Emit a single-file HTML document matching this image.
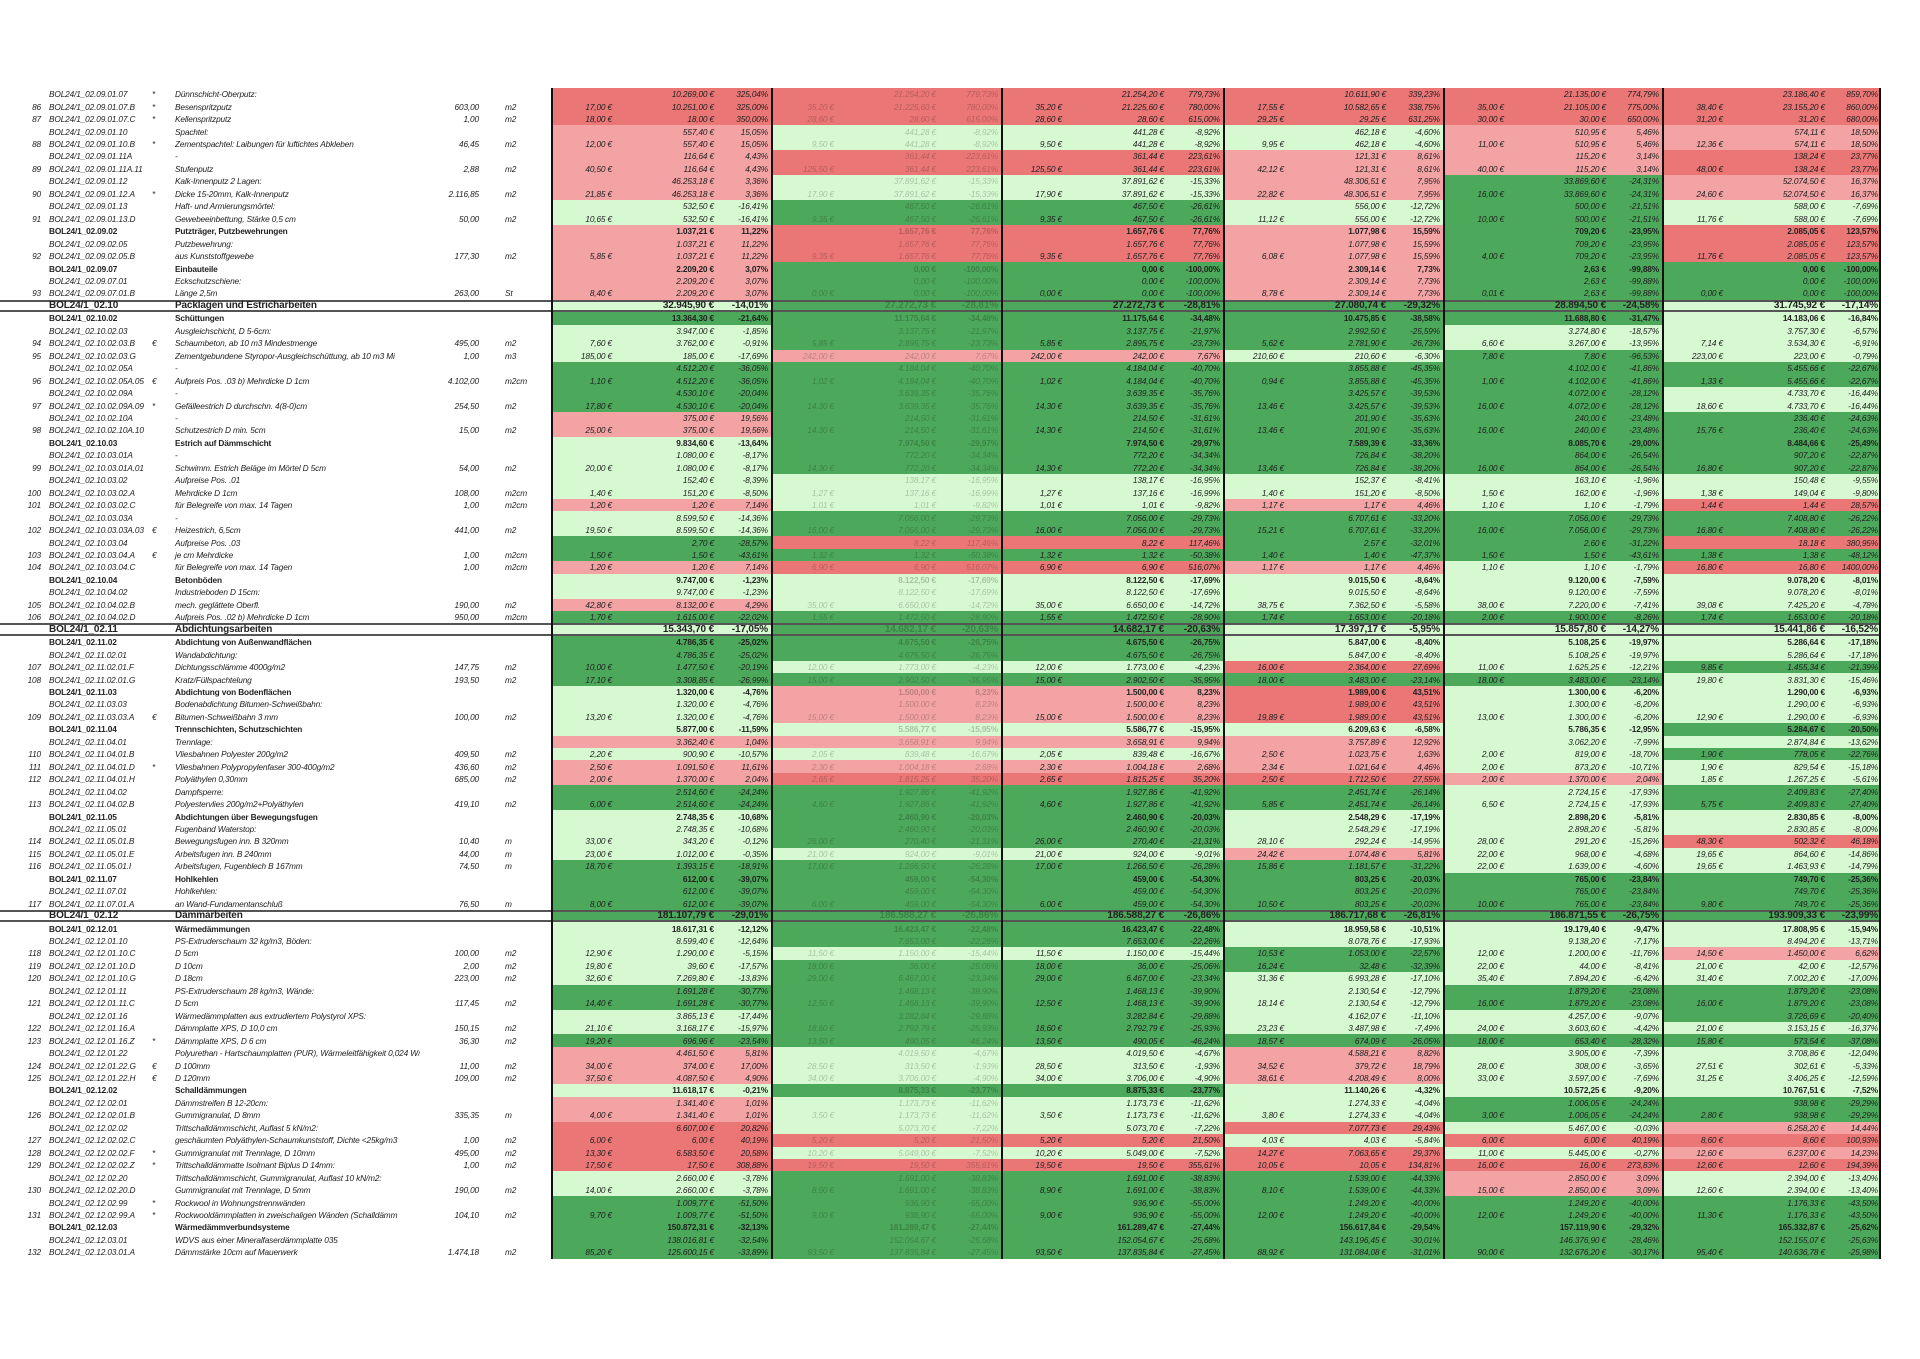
<!DOCTYPE html>
<html><head><meta charset="utf-8">
<style>
html,body{margin:0;padding:0;background:#fff;width:1920px;height:1359px;overflow:hidden}
table{position:absolute;left:0;top:88px;width:1881px;border-collapse:collapse;table-layout:fixed;font-family:"Liberation Sans",sans-serif;font-size:8.3px;font-style:italic;color:#222;letter-spacing:-0.15px}
tr{height:12.468px}
td{padding:0;white-space:nowrap;overflow:hidden;line-height:12px;text-align:right;padding-right:3px}
td:nth-child(1){padding-right:2px}
td:nth-child(2){text-align:left;padding-left:6px}
td:nth-child(3){text-align:left;padding-left:2px}
td:nth-child(4){text-align:left;padding-left:3px}
td:nth-child(6){text-align:left;padding-left:23px}
td:nth-child(3n+7){box-shadow:inset 2px 0 #111}
td:nth-child(24){box-shadow:inset -2px 0 #111}
td:nth-child(10),td:nth-child(11),td:nth-child(12){color:rgba(0,0,0,.22)}
.r{background:#eb7676}.p{background:#f3a3a3}.l{background:#d6f9d1}.g{background:#4ca85a}
.b td{font-weight:bold;font-style:normal}
.h td{font-weight:bold;font-style:normal;font-size:10px;box-shadow:inset 0 2px #555,inset 0 -2px #555}
.h td:nth-child(3n+7){box-shadow:inset 2px 0 #111,inset 0 2px #555,inset 0 -2px #555}
.h td:nth-child(24){box-shadow:inset -2px 0 #111,inset 0 2px #555,inset 0 -2px #555}
</style></head><body>
<table>
<colgroup><col style="width:43px"><col style="width:107px"><col style="width:22px"><col style="width:248px"><col style="width:62px"><col style="width:69px">
<col style="width:64px"><col style="width:102px"><col style="width:54px">
<col style="width:66px"><col style="width:102px"><col style="width:62px">
<col style="width:64px"><col style="width:102px"><col style="width:56px">
<col style="width:64px"><col style="width:102px"><col style="width:54px">
<col style="width:64px"><col style="width:102px"><col style="width:53px">
<col style="width:64px"><col style="width:102px"><col style="width:53px"></colgroup>
<tr><td></td><td>BOL24/1_02.09.01.07</td><td>*</td><td>Dünnschicht-Oberputz:</td><td></td><td></td><td class=r></td><td class=r>10.269,00 €</td><td class=r>325,04%</td><td class=r></td><td class=r>21.254,20 €</td><td class=r>779,73%</td><td class=r></td><td class=r>21.254,20 €</td><td class=r>779,73%</td><td class=r></td><td class=r>10.611,90 €</td><td class=r>339,23%</td><td class=r></td><td class=r>21.135,00 €</td><td class=r>774,79%</td><td class=r></td><td class=r>23.186,40 €</td><td class=r>859,70%</td></tr>
<tr><td>86</td><td>BOL24/1_02.09.01.07.B</td><td>*</td><td>Besenspritzputz</td><td>603,00</td><td>m2</td><td class=r>17,00 €</td><td class=r>10.251,00 €</td><td class=r>325,00%</td><td class=r>35,20 €</td><td class=r>21.225,60 €</td><td class=r>780,00%</td><td class=r>35,20 €</td><td class=r>21.225,60 €</td><td class=r>780,00%</td><td class=r>17,55 €</td><td class=r>10.582,65 €</td><td class=r>338,75%</td><td class=r>35,00 €</td><td class=r>21.105,00 €</td><td class=r>775,00%</td><td class=r>38,40 €</td><td class=r>23.155,20 €</td><td class=r>860,00%</td></tr>
<tr><td>87</td><td>BOL24/1_02.09.01.07.C</td><td>*</td><td>Kellenspritzputz</td><td>1,00</td><td>m2</td><td class=r>18,00 €</td><td class=r>18,00 €</td><td class=r>350,00%</td><td class=r>28,60 €</td><td class=r>28,60 €</td><td class=r>615,00%</td><td class=r>28,60 €</td><td class=r>28,60 €</td><td class=r>615,00%</td><td class=r>29,25 €</td><td class=r>29,25 €</td><td class=r>631,25%</td><td class=r>30,00 €</td><td class=r>30,00 €</td><td class=r>650,00%</td><td class=r>31,20 €</td><td class=r>31,20 €</td><td class=r>680,00%</td></tr>
<tr><td></td><td>BOL24/1_02.09.01.10</td><td></td><td>Spachtel:</td><td></td><td></td><td class=p></td><td class=p>557,40 €</td><td class=p>15,05%</td><td class=l></td><td class=l>441,28 €</td><td class=l>-8,92%</td><td class=l></td><td class=l>441,28 €</td><td class=l>-8,92%</td><td class=l></td><td class=l>462,18 €</td><td class=l>-4,60%</td><td class=p></td><td class=p>510,95 €</td><td class=p>5,46%</td><td class=p></td><td class=p>574,11 €</td><td class=p>18,50%</td></tr>
<tr><td>88</td><td>BOL24/1_02.09.01.10.B</td><td>*</td><td>Zementspachtel: Laibungen für luftichtes Abkleben</td><td>46,45</td><td>m2</td><td class=p>12,00 €</td><td class=p>557,40 €</td><td class=p>15,05%</td><td class=l>9,50 €</td><td class=l>441,28 €</td><td class=l>-8,92%</td><td class=l>9,50 €</td><td class=l>441,28 €</td><td class=l>-8,92%</td><td class=l>9,95 €</td><td class=l>462,18 €</td><td class=l>-4,60%</td><td class=p>11,00 €</td><td class=p>510,95 €</td><td class=p>5,46%</td><td class=p>12,36 €</td><td class=p>574,11 €</td><td class=p>18,50%</td></tr>
<tr><td></td><td>BOL24/1_02.09.01.11A</td><td></td><td>-</td><td></td><td></td><td class=p></td><td class=p>116,64 €</td><td class=p>4,43%</td><td class=r></td><td class=r>361,44 €</td><td class=r>223,61%</td><td class=r></td><td class=r>361,44 €</td><td class=r>223,61%</td><td class=p></td><td class=p>121,31 €</td><td class=p>8,61%</td><td class=p></td><td class=p>115,20 €</td><td class=p>3,14%</td><td class=r></td><td class=r>138,24 €</td><td class=r>23,77%</td></tr>
<tr><td>89</td><td>BOL24/1_02.09.01.11A.11</td><td></td><td>Stufenputz</td><td>2,88</td><td>m2</td><td class=p>40,50 €</td><td class=p>116,64 €</td><td class=p>4,43%</td><td class=r>125,50 €</td><td class=r>361,44 €</td><td class=r>223,61%</td><td class=r>125,50 €</td><td class=r>361,44 €</td><td class=r>223,61%</td><td class=p>42,12 €</td><td class=p>121,31 €</td><td class=p>8,61%</td><td class=p>40,00 €</td><td class=p>115,20 €</td><td class=p>3,14%</td><td class=r>48,00 €</td><td class=r>138,24 €</td><td class=r>23,77%</td></tr>
<tr><td></td><td>BOL24/1_02.09.01.12</td><td></td><td>Kalk-Innenputz 2 Lagen:</td><td></td><td></td><td class=p></td><td class=p>46.253,18 €</td><td class=p>3,36%</td><td class=l></td><td class=l>37.891,62 €</td><td class=l>-15,33%</td><td class=l></td><td class=l>37.891,62 €</td><td class=l>-15,33%</td><td class=p></td><td class=p>48.306,51 €</td><td class=p>7,95%</td><td class=g></td><td class=g>33.869,60 €</td><td class=g>-24,31%</td><td class=p></td><td class=p>52.074,50 €</td><td class=p>16,37%</td></tr>
<tr><td>90</td><td>BOL24/1_02.09.01.12.A</td><td>*</td><td>Dicke 15-20mm, Kalk-Innenputz</td><td>2.116,85</td><td>m2</td><td class=p>21,85 €</td><td class=p>46.253,18 €</td><td class=p>3,36%</td><td class=l>17,90 €</td><td class=l>37.891,62 €</td><td class=l>-15,33%</td><td class=l>17,90 €</td><td class=l>37.891,62 €</td><td class=l>-15,33%</td><td class=p>22,82 €</td><td class=p>48.306,51 €</td><td class=p>7,95%</td><td class=g>16,00 €</td><td class=g>33.869,60 €</td><td class=g>-24,31%</td><td class=p>24,60 €</td><td class=p>52.074,50 €</td><td class=p>16,37%</td></tr>
<tr><td></td><td>BOL24/1_02.09.01.13</td><td></td><td>Haft- und Armierungsmörtel:</td><td></td><td></td><td class=l></td><td class=l>532,50 €</td><td class=l>-16,41%</td><td class=g></td><td class=g>467,50 €</td><td class=g>-26,61%</td><td class=g></td><td class=g>467,50 €</td><td class=g>-26,61%</td><td class=l></td><td class=l>556,00 €</td><td class=l>-12,72%</td><td class=g></td><td class=g>500,00 €</td><td class=g>-21,51%</td><td class=l></td><td class=l>588,00 €</td><td class=l>-7,69%</td></tr>
<tr><td>91</td><td>BOL24/1_02.09.01.13.D</td><td></td><td>Gewebeeinbettung, Stärke 0,5 cm</td><td>50,00</td><td>m2</td><td class=l>10,65 €</td><td class=l>532,50 €</td><td class=l>-16,41%</td><td class=g>9,35 €</td><td class=g>467,50 €</td><td class=g>-26,61%</td><td class=g>9,35 €</td><td class=g>467,50 €</td><td class=g>-26,61%</td><td class=l>11,12 €</td><td class=l>556,00 €</td><td class=l>-12,72%</td><td class=g>10,00 €</td><td class=g>500,00 €</td><td class=g>-21,51%</td><td class=l>11,76 €</td><td class=l>588,00 €</td><td class=l>-7,69%</td></tr>
<tr class=b><td></td><td>BOL24/1_02.09.02</td><td></td><td>Putzträger, Putzbewehrungen</td><td></td><td></td><td class=p></td><td class=p>1.037,21 €</td><td class=p>11,22%</td><td class=r></td><td class=r>1.657,76 €</td><td class=r>77,76%</td><td class=r></td><td class=r>1.657,76 €</td><td class=r>77,76%</td><td class=p></td><td class=p>1.077,98 €</td><td class=p>15,59%</td><td class=g></td><td class=g>709,20 €</td><td class=g>-23,95%</td><td class=r></td><td class=r>2.085,05 €</td><td class=r>123,57%</td></tr>
<tr><td></td><td>BOL24/1_02.09.02.05</td><td></td><td>Putzbewehrung:</td><td></td><td></td><td class=p></td><td class=p>1.037,21 €</td><td class=p>11,22%</td><td class=r></td><td class=r>1.657,76 €</td><td class=r>77,76%</td><td class=r></td><td class=r>1.657,76 €</td><td class=r>77,76%</td><td class=p></td><td class=p>1.077,98 €</td><td class=p>15,59%</td><td class=g></td><td class=g>709,20 €</td><td class=g>-23,95%</td><td class=r></td><td class=r>2.085,05 €</td><td class=r>123,57%</td></tr>
<tr><td>92</td><td>BOL24/1_02.09.02.05.B</td><td></td><td>aus Kunststoffgewebe</td><td>177,30</td><td>m2</td><td class=p>5,85 €</td><td class=p>1.037,21 €</td><td class=p>11,22%</td><td class=r>9,35 €</td><td class=r>1.657,76 €</td><td class=r>77,76%</td><td class=r>9,35 €</td><td class=r>1.657,76 €</td><td class=r>77,76%</td><td class=p>6,08 €</td><td class=p>1.077,98 €</td><td class=p>15,59%</td><td class=g>4,00 €</td><td class=g>709,20 €</td><td class=g>-23,95%</td><td class=r>11,76 €</td><td class=r>2.085,05 €</td><td class=r>123,57%</td></tr>
<tr class=b><td></td><td>BOL24/1_02.09.07</td><td></td><td>Einbauteile</td><td></td><td></td><td class=p></td><td class=p>2.209,20 €</td><td class=p>3,07%</td><td class=g></td><td class=g>0,00 €</td><td class=g>-100,00%</td><td class=g></td><td class=g>0,00 €</td><td class=g>-100,00%</td><td class=p></td><td class=p>2.309,14 €</td><td class=p>7,73%</td><td class=g></td><td class=g>2,63 €</td><td class=g>-99,88%</td><td class=g></td><td class=g>0,00 €</td><td class=g>-100,00%</td></tr>
<tr><td></td><td>BOL24/1_02.09.07.01</td><td></td><td>Eckschutzschiene:</td><td></td><td></td><td class=p></td><td class=p>2.209,20 €</td><td class=p>3,07%</td><td class=g></td><td class=g>0,00 €</td><td class=g>-100,00%</td><td class=g></td><td class=g>0,00 €</td><td class=g>-100,00%</td><td class=p></td><td class=p>2.309,14 €</td><td class=p>7,73%</td><td class=g></td><td class=g>2,63 €</td><td class=g>-99,88%</td><td class=g></td><td class=g>0,00 €</td><td class=g>-100,00%</td></tr>
<tr><td>93</td><td>BOL24/1_02.09.07.01.B</td><td></td><td>Länge 2,5m</td><td>263,00</td><td>St</td><td class=p>8,40 €</td><td class=p>2.209,20 €</td><td class=p>3,07%</td><td class=g>0,00 €</td><td class=g>0,00 €</td><td class=g>-100,00%</td><td class=g>0,00 €</td><td class=g>0,00 €</td><td class=g>-100,00%</td><td class=p>8,78 €</td><td class=p>2.309,14 €</td><td class=p>7,73%</td><td class=g>0,01 €</td><td class=g>2,63 €</td><td class=g>-99,88%</td><td class=g>0,00 €</td><td class=g>0,00 €</td><td class=g>-100,00%</td></tr>
<tr class=h><td></td><td>BOL24/1_02.10</td><td></td><td>Packlagen und Estricharbeiten</td><td></td><td></td><td class=l></td><td class=l>32.945,90 €</td><td class=l>-14,01%</td><td class=g></td><td class=g>27.272,73 €</td><td class=g>-28,81%</td><td class=g></td><td class=g>27.272,73 €</td><td class=g>-28,81%</td><td class=g></td><td class=g>27.080,74 €</td><td class=g>-29,32%</td><td class=g></td><td class=g>28.894,50 €</td><td class=g>-24,58%</td><td class=l></td><td class=l>31.745,92 €</td><td class=l>-17,14%</td></tr>
<tr class=b><td></td><td>BOL24/1_02.10.02</td><td></td><td>Schüttungen</td><td></td><td></td><td class=g></td><td class=g>13.364,30 €</td><td class=g>-21,64%</td><td class=g></td><td class=g>11.175,64 €</td><td class=g>-34,48%</td><td class=g></td><td class=g>11.175,64 €</td><td class=g>-34,48%</td><td class=g></td><td class=g>10.475,85 €</td><td class=g>-38,58%</td><td class=g></td><td class=g>11.688,80 €</td><td class=g>-31,47%</td><td class=l></td><td class=l>14.183,06 €</td><td class=l>-16,84%</td></tr>
<tr><td></td><td>BOL24/1_02.10.02.03</td><td></td><td>Ausgleichschicht, D 5-6cm:</td><td></td><td></td><td class=l></td><td class=l>3.947,00 €</td><td class=l>-1,85%</td><td class=g></td><td class=g>3.137,75 €</td><td class=g>-21,97%</td><td class=g></td><td class=g>3.137,75 €</td><td class=g>-21,97%</td><td class=g></td><td class=g>2.992,50 €</td><td class=g>-25,59%</td><td class=l></td><td class=l>3.274,80 €</td><td class=l>-18,57%</td><td class=l></td><td class=l>3.757,30 €</td><td class=l>-6,57%</td></tr>
<tr><td>94</td><td>BOL24/1_02.10.02.03.B</td><td>€</td><td>Schaumbeton, ab 10 m3 Mindestmenge</td><td>495,00</td><td>m2</td><td class=l>7,60 €</td><td class=l>3.762,00 €</td><td class=l>-0,91%</td><td class=g>5,85 €</td><td class=g>2.895,75 €</td><td class=g>-23,73%</td><td class=g>5,85 €</td><td class=g>2.895,75 €</td><td class=g>-23,73%</td><td class=g>5,62 €</td><td class=g>2.781,90 €</td><td class=g>-26,73%</td><td class=l>6,60 €</td><td class=l>3.267,00 €</td><td class=l>-13,95%</td><td class=l>7,14 €</td><td class=l>3.534,30 €</td><td class=l>-6,91%</td></tr>
<tr><td>95</td><td>BOL24/1_02.10.02.03.G</td><td></td><td>Zementgebundene Styropor-Ausgleichschüttung, ab 10 m3 Mi</td><td>1,00</td><td>m3</td><td class=l>185,00 €</td><td class=l>185,00 €</td><td class=l>-17,69%</td><td class=p>242,00 €</td><td class=p>242,00 €</td><td class=p>7,67%</td><td class=p>242,00 €</td><td class=p>242,00 €</td><td class=p>7,67%</td><td class=l>210,60 €</td><td class=l>210,60 €</td><td class=l>-6,30%</td><td class=g>7,80 €</td><td class=g>7,80 €</td><td class=g>-96,53%</td><td class=l>223,00 €</td><td class=l>223,00 €</td><td class=l>-0,79%</td></tr>
<tr><td></td><td>BOL24/1_02.10.02.05A</td><td></td><td>-</td><td></td><td></td><td class=g></td><td class=g>4.512,20 €</td><td class=g>-36,05%</td><td class=g></td><td class=g>4.184,04 €</td><td class=g>-40,70%</td><td class=g></td><td class=g>4.184,04 €</td><td class=g>-40,70%</td><td class=g></td><td class=g>3.855,88 €</td><td class=g>-45,35%</td><td class=g></td><td class=g>4.102,00 €</td><td class=g>-41,86%</td><td class=g></td><td class=g>5.455,66 €</td><td class=g>-22,67%</td></tr>
<tr><td>96</td><td>BOL24/1_02.10.02.05A.05</td><td>€</td><td>Aufpreis Pos. .03 b) Mehrdicke D 1cm</td><td>4.102,00</td><td>m2cm</td><td class=g>1,10 €</td><td class=g>4.512,20 €</td><td class=g>-36,05%</td><td class=g>1,02 €</td><td class=g>4.184,04 €</td><td class=g>-40,70%</td><td class=g>1,02 €</td><td class=g>4.184,04 €</td><td class=g>-40,70%</td><td class=g>0,94 €</td><td class=g>3.855,88 €</td><td class=g>-45,35%</td><td class=g>1,00 €</td><td class=g>4.102,00 €</td><td class=g>-41,86%</td><td class=g>1,33 €</td><td class=g>5.455,66 €</td><td class=g>-22,67%</td></tr>
<tr><td></td><td>BOL24/1_02.10.02.09A</td><td></td><td>-</td><td></td><td></td><td class=g></td><td class=g>4.530,10 €</td><td class=g>-20,04%</td><td class=g></td><td class=g>3.639,35 €</td><td class=g>-35,76%</td><td class=g></td><td class=g>3.639,35 €</td><td class=g>-35,76%</td><td class=g></td><td class=g>3.425,57 €</td><td class=g>-39,53%</td><td class=g></td><td class=g>4.072,00 €</td><td class=g>-28,12%</td><td class=l></td><td class=l>4.733,70 €</td><td class=l>-16,44%</td></tr>
<tr><td>97</td><td>BOL24/1_02.10.02.09A.09</td><td>*</td><td>Gefälleestrich D durchschn. 4(8-0)cm</td><td>254,50</td><td>m2</td><td class=g>17,80 €</td><td class=g>4.530,10 €</td><td class=g>-20,04%</td><td class=g>14,30 €</td><td class=g>3.639,35 €</td><td class=g>-35,76%</td><td class=g>14,30 €</td><td class=g>3.639,35 €</td><td class=g>-35,76%</td><td class=g>13,46 €</td><td class=g>3.425,57 €</td><td class=g>-39,53%</td><td class=g>16,00 €</td><td class=g>4.072,00 €</td><td class=g>-28,12%</td><td class=l>18,60 €</td><td class=l>4.733,70 €</td><td class=l>-16,44%</td></tr>
<tr><td></td><td>BOL24/1_02.10.02.10A</td><td></td><td>-</td><td></td><td></td><td class=p></td><td class=p>375,00 €</td><td class=p>19,56%</td><td class=g></td><td class=g>214,50 €</td><td class=g>-31,61%</td><td class=g></td><td class=g>214,50 €</td><td class=g>-31,61%</td><td class=g></td><td class=g>201,90 €</td><td class=g>-35,63%</td><td class=g></td><td class=g>240,00 €</td><td class=g>-23,48%</td><td class=g></td><td class=g>236,40 €</td><td class=g>-24,63%</td></tr>
<tr><td>98</td><td>BOL24/1_02.10.02.10A.10</td><td></td><td>Schutzestrich D min. 5cm</td><td>15,00</td><td>m2</td><td class=p>25,00 €</td><td class=p>375,00 €</td><td class=p>19,56%</td><td class=g>14,30 €</td><td class=g>214,50 €</td><td class=g>-31,61%</td><td class=g>14,30 €</td><td class=g>214,50 €</td><td class=g>-31,61%</td><td class=g>13,46 €</td><td class=g>201,90 €</td><td class=g>-35,63%</td><td class=g>16,00 €</td><td class=g>240,00 €</td><td class=g>-23,48%</td><td class=g>15,76 €</td><td class=g>236,40 €</td><td class=g>-24,63%</td></tr>
<tr class=b><td></td><td>BOL24/1_02.10.03</td><td></td><td>Estrich auf Dämmschicht</td><td></td><td></td><td class=l></td><td class=l>9.834,60 €</td><td class=l>-13,64%</td><td class=g></td><td class=g>7.974,50 €</td><td class=g>-29,97%</td><td class=g></td><td class=g>7.974,50 €</td><td class=g>-29,97%</td><td class=g></td><td class=g>7.589,39 €</td><td class=g>-33,36%</td><td class=g></td><td class=g>8.085,70 €</td><td class=g>-29,00%</td><td class=g></td><td class=g>8.484,66 €</td><td class=g>-25,49%</td></tr>
<tr><td></td><td>BOL24/1_02.10.03.01A</td><td></td><td>-</td><td></td><td></td><td class=l></td><td class=l>1.080,00 €</td><td class=l>-8,17%</td><td class=g></td><td class=g>772,20 €</td><td class=g>-34,34%</td><td class=g></td><td class=g>772,20 €</td><td class=g>-34,34%</td><td class=g></td><td class=g>726,84 €</td><td class=g>-38,20%</td><td class=g></td><td class=g>864,00 €</td><td class=g>-26,54%</td><td class=g></td><td class=g>907,20 €</td><td class=g>-22,87%</td></tr>
<tr><td>99</td><td>BOL24/1_02.10.03.01A.01</td><td></td><td>Schwimm. Estrich Beläge im Mörtel D 5cm</td><td>54,00</td><td>m2</td><td class=l>20,00 €</td><td class=l>1.080,00 €</td><td class=l>-8,17%</td><td class=g>14,30 €</td><td class=g>772,20 €</td><td class=g>-34,34%</td><td class=g>14,30 €</td><td class=g>772,20 €</td><td class=g>-34,34%</td><td class=g>13,46 €</td><td class=g>726,84 €</td><td class=g>-38,20%</td><td class=g>16,00 €</td><td class=g>864,00 €</td><td class=g>-26,54%</td><td class=g>16,80 €</td><td class=g>907,20 €</td><td class=g>-22,87%</td></tr>
<tr><td></td><td>BOL24/1_02.10.03.02</td><td></td><td>Aufpreise Pos. .01</td><td></td><td></td><td class=l></td><td class=l>152,40 €</td><td class=l>-8,39%</td><td class=l></td><td class=l>138,17 €</td><td class=l>-16,95%</td><td class=l></td><td class=l>138,17 €</td><td class=l>-16,95%</td><td class=l></td><td class=l>152,37 €</td><td class=l>-8,41%</td><td class=l></td><td class=l>163,10 €</td><td class=l>-1,96%</td><td class=l></td><td class=l>150,48 €</td><td class=l>-9,55%</td></tr>
<tr><td>100</td><td>BOL24/1_02.10.03.02.A</td><td></td><td>Mehrdicke D 1cm</td><td>108,00</td><td>m2cm</td><td class=l>1,40 €</td><td class=l>151,20 €</td><td class=l>-8,50%</td><td class=l>1,27 €</td><td class=l>137,16 €</td><td class=l>-16,99%</td><td class=l>1,27 €</td><td class=l>137,16 €</td><td class=l>-16,99%</td><td class=l>1,40 €</td><td class=l>151,20 €</td><td class=l>-8,50%</td><td class=l>1,50 €</td><td class=l>162,00 €</td><td class=l>-1,96%</td><td class=l>1,38 €</td><td class=l>149,04 €</td><td class=l>-9,80%</td></tr>
<tr><td>101</td><td>BOL24/1_02.10.03.02.C</td><td></td><td>für Belegreife von max. 14 Tagen</td><td>1,00</td><td>m2cm</td><td class=p>1,20 €</td><td class=p>1,20 €</td><td class=p>7,14%</td><td class=l>1,01 €</td><td class=l>1,01 €</td><td class=l>-9,82%</td><td class=l>1,01 €</td><td class=l>1,01 €</td><td class=l>-9,82%</td><td class=p>1,17 €</td><td class=p>1,17 €</td><td class=p>4,46%</td><td class=l>1,10 €</td><td class=l>1,10 €</td><td class=l>-1,79%</td><td class=r>1,44 €</td><td class=r>1,44 €</td><td class=r>28,57%</td></tr>
<tr><td></td><td>BOL24/1_02.10.03.03A</td><td></td><td>-</td><td></td><td></td><td class=l></td><td class=l>8.599,50 €</td><td class=l>-14,36%</td><td class=g></td><td class=g>7.056,00 €</td><td class=g>-29,73%</td><td class=g></td><td class=g>7.056,00 €</td><td class=g>-29,73%</td><td class=g></td><td class=g>6.707,61 €</td><td class=g>-33,20%</td><td class=g></td><td class=g>7.056,00 €</td><td class=g>-29,73%</td><td class=g></td><td class=g>7.408,80 €</td><td class=g>-26,22%</td></tr>
<tr><td>102</td><td>BOL24/1_02.10.03.03A.03</td><td>€</td><td>Heizestrich, 6,5cm</td><td>441,00</td><td>m2</td><td class=l>19,50 €</td><td class=l>8.599,50 €</td><td class=l>-14,36%</td><td class=g>16,00 €</td><td class=g>7.056,00 €</td><td class=g>-29,73%</td><td class=g>16,00 €</td><td class=g>7.056,00 €</td><td class=g>-29,73%</td><td class=g>15,21 €</td><td class=g>6.707,61 €</td><td class=g>-33,20%</td><td class=g>16,00 €</td><td class=g>7.056,00 €</td><td class=g>-29,73%</td><td class=g>16,80 €</td><td class=g>7.408,80 €</td><td class=g>-26,22%</td></tr>
<tr><td></td><td>BOL24/1_02.10.03.04</td><td></td><td>Aufpreise Pos. .03</td><td></td><td></td><td class=g></td><td class=g>2,70 €</td><td class=g>-28,57%</td><td class=r></td><td class=r>8,22 €</td><td class=r>117,46%</td><td class=r></td><td class=r>8,22 €</td><td class=r>117,46%</td><td class=g></td><td class=g>2,57 €</td><td class=g>-32,01%</td><td class=g></td><td class=g>2,60 €</td><td class=g>-31,22%</td><td class=r></td><td class=r>18,18 €</td><td class=r>380,95%</td></tr>
<tr><td>103</td><td>BOL24/1_02.10.03.04.A</td><td>€</td><td>je cm Mehrdicke</td><td>1,00</td><td>m2cm</td><td class=g>1,50 €</td><td class=g>1,50 €</td><td class=g>-43,61%</td><td class=g>1,32 €</td><td class=g>1,32 €</td><td class=g>-50,38%</td><td class=g>1,32 €</td><td class=g>1,32 €</td><td class=g>-50,38%</td><td class=g>1,40 €</td><td class=g>1,40 €</td><td class=g>-47,37%</td><td class=g>1,50 €</td><td class=g>1,50 €</td><td class=g>-43,61%</td><td class=g>1,38 €</td><td class=g>1,38 €</td><td class=g>-48,12%</td></tr>
<tr><td>104</td><td>BOL24/1_02.10.03.04.C</td><td></td><td>für Belegreife von max. 14 Tagen</td><td>1,00</td><td>m2cm</td><td class=p>1,20 €</td><td class=p>1,20 €</td><td class=p>7,14%</td><td class=r>6,90 €</td><td class=r>6,90 €</td><td class=r>516,07%</td><td class=r>6,90 €</td><td class=r>6,90 €</td><td class=r>516,07%</td><td class=p>1,17 €</td><td class=p>1,17 €</td><td class=p>4,46%</td><td class=l>1,10 €</td><td class=l>1,10 €</td><td class=l>-1,79%</td><td class=r>16,80 €</td><td class=r>16,80 €</td><td class=r>1400,00%</td></tr>
<tr class=b><td></td><td>BOL24/1_02.10.04</td><td></td><td>Betonböden</td><td></td><td></td><td class=l></td><td class=l>9.747,00 €</td><td class=l>-1,23%</td><td class=l></td><td class=l>8.122,50 €</td><td class=l>-17,69%</td><td class=l></td><td class=l>8.122,50 €</td><td class=l>-17,69%</td><td class=l></td><td class=l>9.015,50 €</td><td class=l>-8,64%</td><td class=l></td><td class=l>9.120,00 €</td><td class=l>-7,59%</td><td class=l></td><td class=l>9.078,20 €</td><td class=l>-8,01%</td></tr>
<tr><td></td><td>BOL24/1_02.10.04.02</td><td></td><td>Industrieboden D 15cm:</td><td></td><td></td><td class=l></td><td class=l>9.747,00 €</td><td class=l>-1,23%</td><td class=l></td><td class=l>8.122,50 €</td><td class=l>-17,69%</td><td class=l></td><td class=l>8.122,50 €</td><td class=l>-17,69%</td><td class=l></td><td class=l>9.015,50 €</td><td class=l>-8,64%</td><td class=l></td><td class=l>9.120,00 €</td><td class=l>-7,59%</td><td class=l></td><td class=l>9.078,20 €</td><td class=l>-8,01%</td></tr>
<tr><td>105</td><td>BOL24/1_02.10.04.02.B</td><td></td><td>mech. geglättete Oberfl.</td><td>190,00</td><td>m2</td><td class=p>42,80 €</td><td class=p>8.132,00 €</td><td class=p>4,29%</td><td class=l>35,00 €</td><td class=l>6.650,00 €</td><td class=l>-14,72%</td><td class=l>35,00 €</td><td class=l>6.650,00 €</td><td class=l>-14,72%</td><td class=l>38,75 €</td><td class=l>7.362,50 €</td><td class=l>-5,58%</td><td class=l>38,00 €</td><td class=l>7.220,00 €</td><td class=l>-7,41%</td><td class=l>39,08 €</td><td class=l>7.425,20 €</td><td class=l>-4,78%</td></tr>
<tr><td>106</td><td>BOL24/1_02.10.04.02.D</td><td></td><td>Aufpreis Pos. .02 b) Mehrdicke D 1cm</td><td>950,00</td><td>m2cm</td><td class=g>1,70 €</td><td class=g>1.615,00 €</td><td class=g>-22,02%</td><td class=g>1,55 €</td><td class=g>1.472,50 €</td><td class=g>-28,90%</td><td class=g>1,55 €</td><td class=g>1.472,50 €</td><td class=g>-28,90%</td><td class=g>1,74 €</td><td class=g>1.653,00 €</td><td class=g>-20,18%</td><td class=g>2,00 €</td><td class=g>1.900,00 €</td><td class=g>-8,26%</td><td class=g>1,74 €</td><td class=g>1.653,00 €</td><td class=g>-20,18%</td></tr>
<tr class=h><td></td><td>BOL24/1_02.11</td><td></td><td>Abdichtungsarbeiten</td><td></td><td></td><td class=l></td><td class=l>15.343,70 €</td><td class=l>-17,05%</td><td class=g></td><td class=g>14.682,17 €</td><td class=g>-20,63%</td><td class=g></td><td class=g>14.682,17 €</td><td class=g>-20,63%</td><td class=l></td><td class=l>17.397,17 €</td><td class=l>-5,95%</td><td class=l></td><td class=l>15.857,80 €</td><td class=l>-14,27%</td><td class=l></td><td class=l>15.441,86 €</td><td class=l>-16,52%</td></tr>
<tr class=b><td></td><td>BOL24/1_02.11.02</td><td></td><td>Abdichtung von Außenwandflächen</td><td></td><td></td><td class=g></td><td class=g>4.786,35 €</td><td class=g>-25,02%</td><td class=g></td><td class=g>4.675,50 €</td><td class=g>-26,75%</td><td class=g></td><td class=g>4.675,50 €</td><td class=g>-26,75%</td><td class=l></td><td class=l>5.847,00 €</td><td class=l>-8,40%</td><td class=l></td><td class=l>5.108,25 €</td><td class=l>-19,97%</td><td class=l></td><td class=l>5.286,64 €</td><td class=l>-17,18%</td></tr>
<tr><td></td><td>BOL24/1_02.11.02.01</td><td></td><td>Wandabdichtung:</td><td></td><td></td><td class=g></td><td class=g>4.786,35 €</td><td class=g>-25,02%</td><td class=g></td><td class=g>4.675,50 €</td><td class=g>-26,75%</td><td class=g></td><td class=g>4.675,50 €</td><td class=g>-26,75%</td><td class=l></td><td class=l>5.847,00 €</td><td class=l>-8,40%</td><td class=l></td><td class=l>5.108,25 €</td><td class=l>-19,97%</td><td class=l></td><td class=l>5.286,64 €</td><td class=l>-17,18%</td></tr>
<tr><td>107</td><td>BOL24/1_02.11.02.01.F</td><td></td><td>Dichtungsschlämme 4000g/m2</td><td>147,75</td><td>m2</td><td class=g>10,00 €</td><td class=g>1.477,50 €</td><td class=g>-20,19%</td><td class=l>12,00 €</td><td class=l>1.773,00 €</td><td class=l>-4,23%</td><td class=l>12,00 €</td><td class=l>1.773,00 €</td><td class=l>-4,23%</td><td class=r>16,00 €</td><td class=r>2.364,00 €</td><td class=r>27,69%</td><td class=l>11,00 €</td><td class=l>1.625,25 €</td><td class=l>-12,21%</td><td class=g>9,85 €</td><td class=g>1.455,34 €</td><td class=g>-21,39%</td></tr>
<tr><td>108</td><td>BOL24/1_02.11.02.01.G</td><td></td><td>Kratz/Füllspachtelung</td><td>193,50</td><td>m2</td><td class=g>17,10 €</td><td class=g>3.308,85 €</td><td class=g>-26,99%</td><td class=g>15,00 €</td><td class=g>2.902,50 €</td><td class=g>-35,95%</td><td class=g>15,00 €</td><td class=g>2.902,50 €</td><td class=g>-35,95%</td><td class=g>18,00 €</td><td class=g>3.483,00 €</td><td class=g>-23,14%</td><td class=g>18,00 €</td><td class=g>3.483,00 €</td><td class=g>-23,14%</td><td class=l>19,80 €</td><td class=l>3.831,30 €</td><td class=l>-15,46%</td></tr>
<tr class=b><td></td><td>BOL24/1_02.11.03</td><td></td><td>Abdichtung von Bodenflächen</td><td></td><td></td><td class=l></td><td class=l>1.320,00 €</td><td class=l>-4,76%</td><td class=p></td><td class=p>1.500,00 €</td><td class=p>8,23%</td><td class=p></td><td class=p>1.500,00 €</td><td class=p>8,23%</td><td class=r></td><td class=r>1.989,00 €</td><td class=r>43,51%</td><td class=l></td><td class=l>1.300,00 €</td><td class=l>-6,20%</td><td class=l></td><td class=l>1.290,00 €</td><td class=l>-6,93%</td></tr>
<tr><td></td><td>BOL24/1_02.11.03.03</td><td></td><td>Bodenabdichtung Bitumen-Schweißbahn:</td><td></td><td></td><td class=l></td><td class=l>1.320,00 €</td><td class=l>-4,76%</td><td class=p></td><td class=p>1.500,00 €</td><td class=p>8,23%</td><td class=p></td><td class=p>1.500,00 €</td><td class=p>8,23%</td><td class=r></td><td class=r>1.989,00 €</td><td class=r>43,51%</td><td class=l></td><td class=l>1.300,00 €</td><td class=l>-6,20%</td><td class=l></td><td class=l>1.290,00 €</td><td class=l>-6,93%</td></tr>
<tr><td>109</td><td>BOL24/1_02.11.03.03.A</td><td>€</td><td>Bitumen-Schweißbahn 3 mm</td><td>100,00</td><td>m2</td><td class=l>13,20 €</td><td class=l>1.320,00 €</td><td class=l>-4,76%</td><td class=p>15,00 €</td><td class=p>1.500,00 €</td><td class=p>8,23%</td><td class=p>15,00 €</td><td class=p>1.500,00 €</td><td class=p>8,23%</td><td class=r>19,89 €</td><td class=r>1.989,00 €</td><td class=r>43,51%</td><td class=l>13,00 €</td><td class=l>1.300,00 €</td><td class=l>-6,20%</td><td class=l>12,90 €</td><td class=l>1.290,00 €</td><td class=l>-6,93%</td></tr>
<tr class=b><td></td><td>BOL24/1_02.11.04</td><td></td><td>Trennschichten, Schutzschichten</td><td></td><td></td><td class=l></td><td class=l>5.877,00 €</td><td class=l>-11,59%</td><td class=l></td><td class=l>5.586,77 €</td><td class=l>-15,95%</td><td class=l></td><td class=l>5.586,77 €</td><td class=l>-15,95%</td><td class=l></td><td class=l>6.209,63 €</td><td class=l>-6,58%</td><td class=l></td><td class=l>5.786,35 €</td><td class=l>-12,95%</td><td class=g></td><td class=g>5.284,67 €</td><td class=g>-20,50%</td></tr>
<tr><td></td><td>BOL24/1_02.11.04.01</td><td></td><td>Trennlage:</td><td></td><td></td><td class=p></td><td class=p>3.362,40 €</td><td class=p>1,04%</td><td class=p></td><td class=p>3.658,91 €</td><td class=p>9,94%</td><td class=p></td><td class=p>3.658,91 €</td><td class=p>9,94%</td><td class=p></td><td class=p>3.757,89 €</td><td class=p>12,92%</td><td class=l></td><td class=l>3.062,20 €</td><td class=l>-7,99%</td><td class=l></td><td class=l>2.874,84 €</td><td class=l>-13,62%</td></tr>
<tr><td>110</td><td>BOL24/1_02.11.04.01.B</td><td></td><td>Vliesbahnen Polyester 200g/m2</td><td>409,50</td><td>m2</td><td class=l>2,20 €</td><td class=l>900,90 €</td><td class=l>-10,57%</td><td class=l>2,05 €</td><td class=l>839,48 €</td><td class=l>-16,67%</td><td class=l>2,05 €</td><td class=l>839,48 €</td><td class=l>-16,67%</td><td class=p>2,50 €</td><td class=p>1.023,75 €</td><td class=p>1,63%</td><td class=l>2,00 €</td><td class=l>819,00 €</td><td class=l>-18,70%</td><td class=g>1,90 €</td><td class=g>778,05 €</td><td class=g>-22,76%</td></tr>
<tr><td>111</td><td>BOL24/1_02.11.04.01.D</td><td>*</td><td>Vliesbahnen Polypropylenfaser 300-400g/m2</td><td>436,60</td><td>m2</td><td class=p>2,50 €</td><td class=p>1.091,50 €</td><td class=p>11,61%</td><td class=p>2,30 €</td><td class=p>1.004,18 €</td><td class=p>2,68%</td><td class=p>2,30 €</td><td class=p>1.004,18 €</td><td class=p>2,68%</td><td class=p>2,34 €</td><td class=p>1.021,64 €</td><td class=p>4,46%</td><td class=l>2,00 €</td><td class=l>873,20 €</td><td class=l>-10,71%</td><td class=l>1,90 €</td><td class=l>829,54 €</td><td class=l>-15,18%</td></tr>
<tr><td>112</td><td>BOL24/1_02.11.04.01.H</td><td></td><td>Polyäthylen 0,30mm</td><td>685,00</td><td>m2</td><td class=p>2,00 €</td><td class=p>1.370,00 €</td><td class=p>2,04%</td><td class=r>2,65 €</td><td class=r>1.815,25 €</td><td class=r>35,20%</td><td class=r>2,65 €</td><td class=r>1.815,25 €</td><td class=r>35,20%</td><td class=r>2,50 €</td><td class=r>1.712,50 €</td><td class=r>27,55%</td><td class=p>2,00 €</td><td class=p>1.370,00 €</td><td class=p>2,04%</td><td class=l>1,85 €</td><td class=l>1.267,25 €</td><td class=l>-5,61%</td></tr>
<tr><td></td><td>BOL24/1_02.11.04.02</td><td></td><td>Dampfsperre:</td><td></td><td></td><td class=g></td><td class=g>2.514,60 €</td><td class=g>-24,24%</td><td class=g></td><td class=g>1.927,86 €</td><td class=g>-41,92%</td><td class=g></td><td class=g>1.927,86 €</td><td class=g>-41,92%</td><td class=g></td><td class=g>2.451,74 €</td><td class=g>-26,14%</td><td class=l></td><td class=l>2.724,15 €</td><td class=l>-17,93%</td><td class=g></td><td class=g>2.409,83 €</td><td class=g>-27,40%</td></tr>
<tr><td>113</td><td>BOL24/1_02.11.04.02.B</td><td></td><td>Polyestervlies 200g/m2+Polyäthylen</td><td>419,10</td><td>m2</td><td class=g>6,00 €</td><td class=g>2.514,60 €</td><td class=g>-24,24%</td><td class=g>4,60 €</td><td class=g>1.927,86 €</td><td class=g>-41,92%</td><td class=g>4,60 €</td><td class=g>1.927,86 €</td><td class=g>-41,92%</td><td class=g>5,85 €</td><td class=g>2.451,74 €</td><td class=g>-26,14%</td><td class=l>6,50 €</td><td class=l>2.724,15 €</td><td class=l>-17,93%</td><td class=g>5,75 €</td><td class=g>2.409,83 €</td><td class=g>-27,40%</td></tr>
<tr class=b><td></td><td>BOL24/1_02.11.05</td><td></td><td>Abdichtungen über Bewegungsfugen</td><td></td><td></td><td class=l></td><td class=l>2.748,35 €</td><td class=l>-10,68%</td><td class=g></td><td class=g>2.460,90 €</td><td class=g>-20,03%</td><td class=g></td><td class=g>2.460,90 €</td><td class=g>-20,03%</td><td class=l></td><td class=l>2.548,29 €</td><td class=l>-17,19%</td><td class=l></td><td class=l>2.898,20 €</td><td class=l>-5,81%</td><td class=l></td><td class=l>2.830,85 €</td><td class=l>-8,00%</td></tr>
<tr><td></td><td>BOL24/1_02.11.05.01</td><td></td><td>Fugenband Waterstop:</td><td></td><td></td><td class=l></td><td class=l>2.748,35 €</td><td class=l>-10,68%</td><td class=g></td><td class=g>2.460,90 €</td><td class=g>-20,03%</td><td class=g></td><td class=g>2.460,90 €</td><td class=g>-20,03%</td><td class=l></td><td class=l>2.548,29 €</td><td class=l>-17,19%</td><td class=l></td><td class=l>2.898,20 €</td><td class=l>-5,81%</td><td class=l></td><td class=l>2.830,85 €</td><td class=l>-8,00%</td></tr>
<tr><td>114</td><td>BOL24/1_02.11.05.01.B</td><td></td><td>Bewegungsfugen inn. B 320mm</td><td>10,40</td><td>m</td><td class=l>33,00 €</td><td class=l>343,20 €</td><td class=l>-0,12%</td><td class=g>26,00 €</td><td class=g>270,40 €</td><td class=g>-21,31%</td><td class=g>26,00 €</td><td class=g>270,40 €</td><td class=g>-21,31%</td><td class=l>28,10 €</td><td class=l>292,24 €</td><td class=l>-14,95%</td><td class=l>28,00 €</td><td class=l>291,20 €</td><td class=l>-15,26%</td><td class=r>48,30 €</td><td class=r>502,32 €</td><td class=r>46,18%</td></tr>
<tr><td>115</td><td>BOL24/1_02.11.05.01.E</td><td></td><td>Arbeitsfugen inn. B 240mm</td><td>44,00</td><td>m</td><td class=l>23,00 €</td><td class=l>1.012,00 €</td><td class=l>-0,35%</td><td class=l>21,00 €</td><td class=l>924,00 €</td><td class=l>-9,01%</td><td class=l>21,00 €</td><td class=l>924,00 €</td><td class=l>-9,01%</td><td class=p>24,42 €</td><td class=p>1.074,48 €</td><td class=p>5,81%</td><td class=l>22,00 €</td><td class=l>968,00 €</td><td class=l>-4,68%</td><td class=l>19,65 €</td><td class=l>864,60 €</td><td class=l>-14,86%</td></tr>
<tr><td>116</td><td>BOL24/1_02.11.05.01.I</td><td></td><td>Arbeitsfugen, Fugenblech B 167mm</td><td>74,50</td><td>m</td><td class=g>18,70 €</td><td class=g>1.393,15 €</td><td class=g>-18,91%</td><td class=g>17,00 €</td><td class=g>1.266,50 €</td><td class=g>-26,28%</td><td class=g>17,00 €</td><td class=g>1.266,50 €</td><td class=g>-26,28%</td><td class=g>15,86 €</td><td class=g>1.181,57 €</td><td class=g>-31,22%</td><td class=l>22,00 €</td><td class=l>1.639,00 €</td><td class=l>-4,60%</td><td class=l>19,65 €</td><td class=l>1.463,93 €</td><td class=l>-14,79%</td></tr>
<tr class=b><td></td><td>BOL24/1_02.11.07</td><td></td><td>Hohlkehlen</td><td></td><td></td><td class=g></td><td class=g>612,00 €</td><td class=g>-39,07%</td><td class=g></td><td class=g>459,00 €</td><td class=g>-54,30%</td><td class=g></td><td class=g>459,00 €</td><td class=g>-54,30%</td><td class=g></td><td class=g>803,25 €</td><td class=g>-20,03%</td><td class=g></td><td class=g>765,00 €</td><td class=g>-23,84%</td><td class=g></td><td class=g>749,70 €</td><td class=g>-25,36%</td></tr>
<tr><td></td><td>BOL24/1_02.11.07.01</td><td></td><td>Hohlkehlen:</td><td></td><td></td><td class=g></td><td class=g>612,00 €</td><td class=g>-39,07%</td><td class=g></td><td class=g>459,00 €</td><td class=g>-54,30%</td><td class=g></td><td class=g>459,00 €</td><td class=g>-54,30%</td><td class=g></td><td class=g>803,25 €</td><td class=g>-20,03%</td><td class=g></td><td class=g>765,00 €</td><td class=g>-23,84%</td><td class=g></td><td class=g>749,70 €</td><td class=g>-25,36%</td></tr>
<tr><td>117</td><td>BOL24/1_02.11.07.01.A</td><td></td><td>an Wand-Fundamentanschluß</td><td>76,50</td><td>m</td><td class=g>8,00 €</td><td class=g>612,00 €</td><td class=g>-39,07%</td><td class=g>6,00 €</td><td class=g>459,00 €</td><td class=g>-54,30%</td><td class=g>6,00 €</td><td class=g>459,00 €</td><td class=g>-54,30%</td><td class=g>10,50 €</td><td class=g>803,25 €</td><td class=g>-20,03%</td><td class=g>10,00 €</td><td class=g>765,00 €</td><td class=g>-23,84%</td><td class=g>9,80 €</td><td class=g>749,70 €</td><td class=g>-25,36%</td></tr>
<tr class=h><td></td><td>BOL24/1_02.12</td><td></td><td>Dämmarbeiten</td><td></td><td></td><td class=g></td><td class=g>181.107,79 €</td><td class=g>-29,01%</td><td class=g></td><td class=g>186.588,27 €</td><td class=g>-26,86%</td><td class=g></td><td class=g>186.588,27 €</td><td class=g>-26,86%</td><td class=g></td><td class=g>186.717,68 €</td><td class=g>-26,81%</td><td class=g></td><td class=g>186.871,55 €</td><td class=g>-26,75%</td><td class=g></td><td class=g>193.909,33 €</td><td class=g>-23,99%</td></tr>
<tr class=b><td></td><td>BOL24/1_02.12.01</td><td></td><td>Wärmedämmungen</td><td></td><td></td><td class=l></td><td class=l>18.617,31 €</td><td class=l>-12,12%</td><td class=g></td><td class=g>16.423,47 €</td><td class=g>-22,48%</td><td class=g></td><td class=g>16.423,47 €</td><td class=g>-22,48%</td><td class=l></td><td class=l>18.959,58 €</td><td class=l>-10,51%</td><td class=l></td><td class=l>19.179,40 €</td><td class=l>-9,47%</td><td class=l></td><td class=l>17.808,95 €</td><td class=l>-15,94%</td></tr>
<tr><td></td><td>BOL24/1_02.12.01.10</td><td></td><td>PS-Extruderschaum 32 kg/m3, Böden:</td><td></td><td></td><td class=l></td><td class=l>8.599,40 €</td><td class=l>-12,64%</td><td class=g></td><td class=g>7.653,00 €</td><td class=g>-22,26%</td><td class=g></td><td class=g>7.653,00 €</td><td class=g>-22,26%</td><td class=l></td><td class=l>8.078,76 €</td><td class=l>-17,93%</td><td class=l></td><td class=l>9.138,20 €</td><td class=l>-7,17%</td><td class=l></td><td class=l>8.494,20 €</td><td class=l>-13,71%</td></tr>
<tr><td>118</td><td>BOL24/1_02.12.01.10.C</td><td></td><td>D 5cm</td><td>100,00</td><td>m2</td><td class=l>12,90 €</td><td class=l>1.290,00 €</td><td class=l>-5,15%</td><td class=l>11,50 €</td><td class=l>1.150,00 €</td><td class=l>-15,44%</td><td class=l>11,50 €</td><td class=l>1.150,00 €</td><td class=l>-15,44%</td><td class=g>10,53 €</td><td class=g>1.053,00 €</td><td class=g>-22,57%</td><td class=l>12,00 €</td><td class=l>1.200,00 €</td><td class=l>-11,76%</td><td class=p>14,50 €</td><td class=p>1.450,00 €</td><td class=p>6,62%</td></tr>
<tr><td>119</td><td>BOL24/1_02.12.01.10.D</td><td></td><td>D 10cm</td><td>2,00</td><td>m2</td><td class=l>19,80 €</td><td class=l>39,60 €</td><td class=l>-17,57%</td><td class=g>18,00 €</td><td class=g>36,00 €</td><td class=g>-25,06%</td><td class=g>18,00 €</td><td class=g>36,00 €</td><td class=g>-25,06%</td><td class=g>16,24 €</td><td class=g>32,48 €</td><td class=g>-32,39%</td><td class=l>22,00 €</td><td class=l>44,00 €</td><td class=l>-8,41%</td><td class=l>21,00 €</td><td class=l>42,00 €</td><td class=l>-12,57%</td></tr>
<tr><td>120</td><td>BOL24/1_02.12.01.10.G</td><td></td><td>D 18cm</td><td>223,00</td><td>m2</td><td class=l>32,60 €</td><td class=l>7.269,80 €</td><td class=l>-13,83%</td><td class=g>29,00 €</td><td class=g>6.467,00 €</td><td class=g>-23,34%</td><td class=g>29,00 €</td><td class=g>6.467,00 €</td><td class=g>-23,34%</td><td class=l>31,36 €</td><td class=l>6.993,28 €</td><td class=l>-17,10%</td><td class=l>35,40 €</td><td class=l>7.894,20 €</td><td class=l>-6,42%</td><td class=l>31,40 €</td><td class=l>7.002,20 €</td><td class=l>-17,00%</td></tr>
<tr><td></td><td>BOL24/1_02.12.01.11</td><td></td><td>PS-Extruderschaum 28 kg/m3, Wände:</td><td></td><td></td><td class=g></td><td class=g>1.691,28 €</td><td class=g>-30,77%</td><td class=g></td><td class=g>1.468,13 €</td><td class=g>-39,90%</td><td class=g></td><td class=g>1.468,13 €</td><td class=g>-39,90%</td><td class=l></td><td class=l>2.130,54 €</td><td class=l>-12,79%</td><td class=g></td><td class=g>1.879,20 €</td><td class=g>-23,08%</td><td class=g></td><td class=g>1.879,20 €</td><td class=g>-23,08%</td></tr>
<tr><td>121</td><td>BOL24/1_02.12.01.11.C</td><td></td><td>D 5cm</td><td>117,45</td><td>m2</td><td class=g>14,40 €</td><td class=g>1.691,28 €</td><td class=g>-30,77%</td><td class=g>12,50 €</td><td class=g>1.468,13 €</td><td class=g>-39,90%</td><td class=g>12,50 €</td><td class=g>1.468,13 €</td><td class=g>-39,90%</td><td class=l>18,14 €</td><td class=l>2.130,54 €</td><td class=l>-12,79%</td><td class=g>16,00 €</td><td class=g>1.879,20 €</td><td class=g>-23,08%</td><td class=g>16,00 €</td><td class=g>1.879,20 €</td><td class=g>-23,08%</td></tr>
<tr><td></td><td>BOL24/1_02.12.01.16</td><td></td><td>Wärmedämmplatten aus extrudiertem Polystyrol XPS:</td><td></td><td></td><td class=l></td><td class=l>3.865,13 €</td><td class=l>-17,44%</td><td class=g></td><td class=g>3.282,84 €</td><td class=g>-29,88%</td><td class=g></td><td class=g>3.282,84 €</td><td class=g>-29,88%</td><td class=l></td><td class=l>4.162,07 €</td><td class=l>-11,10%</td><td class=l></td><td class=l>4.257,00 €</td><td class=l>-9,07%</td><td class=g></td><td class=g>3.726,69 €</td><td class=g>-20,40%</td></tr>
<tr><td>122</td><td>BOL24/1_02.12.01.16.A</td><td></td><td>Dämmplatte XPS, D 10,0 cm</td><td>150,15</td><td>m2</td><td class=l>21,10 €</td><td class=l>3.168,17 €</td><td class=l>-15,97%</td><td class=g>18,60 €</td><td class=g>2.792,79 €</td><td class=g>-25,93%</td><td class=g>18,60 €</td><td class=g>2.792,79 €</td><td class=g>-25,93%</td><td class=l>23,23 €</td><td class=l>3.487,98 €</td><td class=l>-7,49%</td><td class=l>24,00 €</td><td class=l>3.603,60 €</td><td class=l>-4,42%</td><td class=l>21,00 €</td><td class=l>3.153,15 €</td><td class=l>-16,37%</td></tr>
<tr><td>123</td><td>BOL24/1_02.12.01.16.Z</td><td>*</td><td>Dämmplatte XPS, D 6 cm</td><td>36,30</td><td>m2</td><td class=g>19,20 €</td><td class=g>696,96 €</td><td class=g>-23,54%</td><td class=g>13,50 €</td><td class=g>490,05 €</td><td class=g>-46,24%</td><td class=g>13,50 €</td><td class=g>490,05 €</td><td class=g>-46,24%</td><td class=g>18,57 €</td><td class=g>674,09 €</td><td class=g>-26,05%</td><td class=g>18,00 €</td><td class=g>653,40 €</td><td class=g>-28,32%</td><td class=g>15,80 €</td><td class=g>573,54 €</td><td class=g>-37,08%</td></tr>
<tr><td></td><td>BOL24/1_02.12.01.22</td><td></td><td>Polyurethan - Hartschaumplatten (PUR), Wärmeleitfähigkeit 0,024 W/(m·K) Boden</td><td></td><td></td><td class=p></td><td class=p>4.461,50 €</td><td class=p>5,81%</td><td class=l></td><td class=l>4.019,50 €</td><td class=l>-4,67%</td><td class=l></td><td class=l>4.019,50 €</td><td class=l>-4,67%</td><td class=p></td><td class=p>4.588,21 €</td><td class=p>8,82%</td><td class=l></td><td class=l>3.905,00 €</td><td class=l>-7,39%</td><td class=l></td><td class=l>3.708,86 €</td><td class=l>-12,04%</td></tr>
<tr><td>124</td><td>BOL24/1_02.12.01.22.G</td><td>€</td><td>D 100mm</td><td>11,00</td><td>m2</td><td class=p>34,00 €</td><td class=p>374,00 €</td><td class=p>17,00%</td><td class=l>28,50 €</td><td class=l>313,50 €</td><td class=l>-1,93%</td><td class=l>28,50 €</td><td class=l>313,50 €</td><td class=l>-1,93%</td><td class=p>34,52 €</td><td class=p>379,72 €</td><td class=p>18,79%</td><td class=l>28,00 €</td><td class=l>308,00 €</td><td class=l>-3,65%</td><td class=l>27,51 €</td><td class=l>302,61 €</td><td class=l>-5,33%</td></tr>
<tr><td>125</td><td>BOL24/1_02.12.01.22.H</td><td>€</td><td>D 120mm</td><td>109,00</td><td>m2</td><td class=p>37,50 €</td><td class=p>4.087,50 €</td><td class=p>4,90%</td><td class=l>34,00 €</td><td class=l>3.706,00 €</td><td class=l>-4,90%</td><td class=l>34,00 €</td><td class=l>3.706,00 €</td><td class=l>-4,90%</td><td class=p>38,61 €</td><td class=p>4.208,49 €</td><td class=p>8,00%</td><td class=l>33,00 €</td><td class=l>3.597,00 €</td><td class=l>-7,69%</td><td class=l>31,25 €</td><td class=l>3.406,25 €</td><td class=l>-12,59%</td></tr>
<tr class=b><td></td><td>BOL24/1_02.12.02</td><td></td><td>Schalldämmungen</td><td></td><td></td><td class=l></td><td class=l>11.618,17 €</td><td class=l>-0,21%</td><td class=g></td><td class=g>8.875,33 €</td><td class=g>-23,77%</td><td class=g></td><td class=g>8.875,33 €</td><td class=g>-23,77%</td><td class=l></td><td class=l>11.140,26 €</td><td class=l>-4,32%</td><td class=l></td><td class=l>10.572,25 €</td><td class=l>-9,20%</td><td class=l></td><td class=l>10.767,51 €</td><td class=l>-7,52%</td></tr>
<tr><td></td><td>BOL24/1_02.12.02.01</td><td></td><td>Dämmstreifen B 12-20cm:</td><td></td><td></td><td class=p></td><td class=p>1.341,40 €</td><td class=p>1,01%</td><td class=l></td><td class=l>1.173,73 €</td><td class=l>-11,62%</td><td class=l></td><td class=l>1.173,73 €</td><td class=l>-11,62%</td><td class=l></td><td class=l>1.274,33 €</td><td class=l>-4,04%</td><td class=g></td><td class=g>1.006,05 €</td><td class=g>-24,24%</td><td class=g></td><td class=g>938,98 €</td><td class=g>-29,29%</td></tr>
<tr><td>126</td><td>BOL24/1_02.12.02.01.B</td><td></td><td>Gummigranulat, D 8mm</td><td>335,35</td><td>m</td><td class=p>4,00 €</td><td class=p>1.341,40 €</td><td class=p>1,01%</td><td class=l>3,50 €</td><td class=l>1.173,73 €</td><td class=l>-11,62%</td><td class=l>3,50 €</td><td class=l>1.173,73 €</td><td class=l>-11,62%</td><td class=l>3,80 €</td><td class=l>1.274,33 €</td><td class=l>-4,04%</td><td class=g>3,00 €</td><td class=g>1.006,05 €</td><td class=g>-24,24%</td><td class=g>2,80 €</td><td class=g>938,98 €</td><td class=g>-29,29%</td></tr>
<tr><td></td><td>BOL24/1_02.12.02.02</td><td></td><td>Trittschalldämmschicht, Auflast 5 kN/m2:</td><td></td><td></td><td class=r></td><td class=r>6.607,00 €</td><td class=r>20,82%</td><td class=l></td><td class=l>5.073,70 €</td><td class=l>-7,22%</td><td class=l></td><td class=l>5.073,70 €</td><td class=l>-7,22%</td><td class=r></td><td class=r>7.077,73 €</td><td class=r>29,43%</td><td class=l></td><td class=l>5.467,00 €</td><td class=l>-0,03%</td><td class=p></td><td class=p>6.258,20 €</td><td class=p>14,44%</td></tr>
<tr><td>127</td><td>BOL24/1_02.12.02.02.C</td><td></td><td>geschäumten Polyäthylen-Schaumkunststoff, Dichte &lt;25kg/m3</td><td>1,00</td><td>m2</td><td class=r>6,00 €</td><td class=r>6,00 €</td><td class=r>40,19%</td><td class=r>5,20 €</td><td class=r>5,20 €</td><td class=r>21,50%</td><td class=r>5,20 €</td><td class=r>5,20 €</td><td class=r>21,50%</td><td class=l>4,03 €</td><td class=l>4,03 €</td><td class=l>-5,84%</td><td class=r>6,00 €</td><td class=r>6,00 €</td><td class=r>40,19%</td><td class=r>8,60 €</td><td class=r>8,60 €</td><td class=r>100,93%</td></tr>
<tr><td>128</td><td>BOL24/1_02.12.02.02.F</td><td>*</td><td>Gummigranulat mit Trennlage, D 10mm</td><td>495,00</td><td>m2</td><td class=r>13,30 €</td><td class=r>6.583,50 €</td><td class=r>20,58%</td><td class=l>10,20 €</td><td class=l>5.049,00 €</td><td class=l>-7,52%</td><td class=l>10,20 €</td><td class=l>5.049,00 €</td><td class=l>-7,52%</td><td class=r>14,27 €</td><td class=r>7.063,65 €</td><td class=r>29,37%</td><td class=l>11,00 €</td><td class=l>5.445,00 €</td><td class=l>-0,27%</td><td class=p>12,60 €</td><td class=p>6.237,00 €</td><td class=p>14,23%</td></tr>
<tr><td>129</td><td>BOL24/1_02.12.02.02.Z</td><td>*</td><td>Trittschalldämmatte Isolmant Biplus D 14mm:</td><td>1,00</td><td>m2</td><td class=r>17,50 €</td><td class=r>17,50 €</td><td class=r>308,88%</td><td class=r>19,50 €</td><td class=r>19,50 €</td><td class=r>355,61%</td><td class=r>19,50 €</td><td class=r>19,50 €</td><td class=r>355,61%</td><td class=r>10,05 €</td><td class=r>10,05 €</td><td class=r>134,81%</td><td class=r>16,00 €</td><td class=r>16,00 €</td><td class=r>273,83%</td><td class=r>12,60 €</td><td class=r>12,60 €</td><td class=r>194,39%</td></tr>
<tr><td></td><td>BOL24/1_02.12.02.20</td><td></td><td>Trittschalldämmschicht, Gummigranulat, Auflast 10 kN/m2:</td><td></td><td></td><td class=l></td><td class=l>2.660,00 €</td><td class=l>-3,78%</td><td class=g></td><td class=g>1.691,00 €</td><td class=g>-38,83%</td><td class=g></td><td class=g>1.691,00 €</td><td class=g>-38,83%</td><td class=g></td><td class=g>1.539,00 €</td><td class=g>-44,33%</td><td class=p></td><td class=p>2.850,00 €</td><td class=p>3,09%</td><td class=l></td><td class=l>2.394,00 €</td><td class=l>-13,40%</td></tr>
<tr><td>130</td><td>BOL24/1_02.12.02.20.D</td><td></td><td>Gummigranulat mit Trennlage, D 5mm</td><td>190,00</td><td>m2</td><td class=l>14,00 €</td><td class=l>2.660,00 €</td><td class=l>-3,78%</td><td class=g>8,90 €</td><td class=g>1.691,00 €</td><td class=g>-38,83%</td><td class=g>8,90 €</td><td class=g>1.691,00 €</td><td class=g>-38,83%</td><td class=g>8,10 €</td><td class=g>1.539,00 €</td><td class=g>-44,33%</td><td class=p>15,00 €</td><td class=p>2.850,00 €</td><td class=p>3,09%</td><td class=l>12,60 €</td><td class=l>2.394,00 €</td><td class=l>-13,40%</td></tr>
<tr><td></td><td>BOL24/1_02.12.02.99</td><td>*</td><td>Rockwool in Wohnungstrennwänden</td><td></td><td></td><td class=g></td><td class=g>1.009,77 €</td><td class=g>-51,50%</td><td class=g></td><td class=g>936,90 €</td><td class=g>-55,00%</td><td class=g></td><td class=g>936,90 €</td><td class=g>-55,00%</td><td class=g></td><td class=g>1.249,20 €</td><td class=g>-40,00%</td><td class=g></td><td class=g>1.249,20 €</td><td class=g>-40,00%</td><td class=g></td><td class=g>1.176,33 €</td><td class=g>-43,50%</td></tr>
<tr><td>131</td><td>BOL24/1_02.12.02.99.A</td><td>*</td><td>Rockwooldämmplatten in zweischaligen Wänden (Schalldämm</td><td>104,10</td><td>m2</td><td class=g>9,70 €</td><td class=g>1.009,77 €</td><td class=g>-51,50%</td><td class=g>9,00 €</td><td class=g>936,90 €</td><td class=g>-55,00%</td><td class=g>9,00 €</td><td class=g>936,90 €</td><td class=g>-55,00%</td><td class=g>12,00 €</td><td class=g>1.249,20 €</td><td class=g>-40,00%</td><td class=g>12,00 €</td><td class=g>1.249,20 €</td><td class=g>-40,00%</td><td class=g>11,30 €</td><td class=g>1.176,33 €</td><td class=g>-43,50%</td></tr>
<tr class=b><td></td><td>BOL24/1_02.12.03</td><td></td><td>Wärmedämmverbundsysteme</td><td></td><td></td><td class=g></td><td class=g>150.872,31 €</td><td class=g>-32,13%</td><td class=g></td><td class=g>161.289,47 €</td><td class=g>-27,44%</td><td class=g></td><td class=g>161.289,47 €</td><td class=g>-27,44%</td><td class=g></td><td class=g>156.617,84 €</td><td class=g>-29,54%</td><td class=g></td><td class=g>157.119,90 €</td><td class=g>-29,32%</td><td class=g></td><td class=g>165.332,87 €</td><td class=g>-25,62%</td></tr>
<tr><td></td><td>BOL24/1_02.12.03.01</td><td></td><td>WDVS aus einer Mineralfaserdämmplatte 035</td><td></td><td></td><td class=g></td><td class=g>138.016,81 €</td><td class=g>-32,54%</td><td class=g></td><td class=g>152.054,67 €</td><td class=g>-25,68%</td><td class=g></td><td class=g>152.054,67 €</td><td class=g>-25,68%</td><td class=g></td><td class=g>143.196,45 €</td><td class=g>-30,01%</td><td class=g></td><td class=g>146.376,90 €</td><td class=g>-28,46%</td><td class=g></td><td class=g>152.155,07 €</td><td class=g>-25,63%</td></tr>
<tr><td>132</td><td>BOL24/1_02.12.03.01.A</td><td></td><td>Dämmstärke 10cm auf Mauerwerk</td><td>1.474,18</td><td>m2</td><td class=g>85,20 €</td><td class=g>125.600,15 €</td><td class=g>-33,89%</td><td class=g>93,50 €</td><td class=g>137.835,84 €</td><td class=g>-27,45%</td><td class=g>93,50 €</td><td class=g>137.835,84 €</td><td class=g>-27,45%</td><td class=g>88,92 €</td><td class=g>131.084,08 €</td><td class=g>-31,01%</td><td class=g>90,00 €</td><td class=g>132.676,20 €</td><td class=g>-30,17%</td><td class=g>95,40 €</td><td class=g>140.636,78 €</td><td class=g>-25,98%</td></tr>
</table>
</body></html>
